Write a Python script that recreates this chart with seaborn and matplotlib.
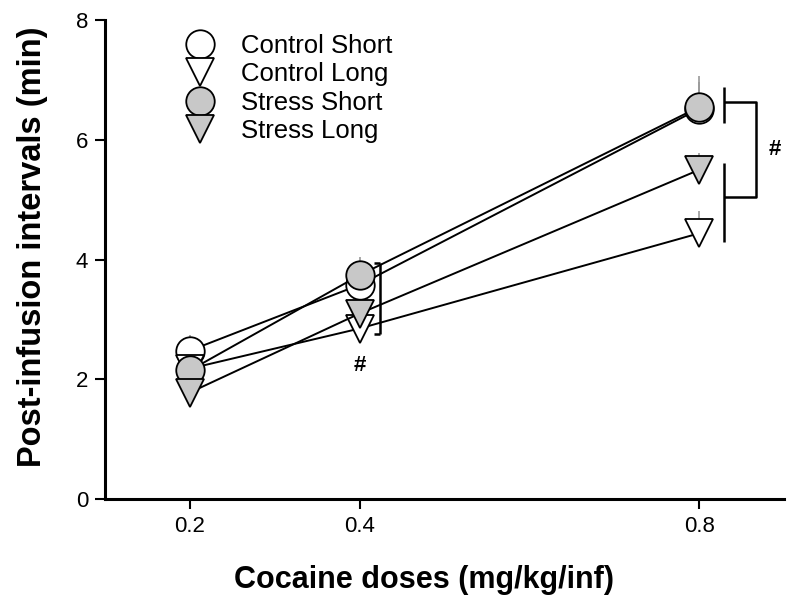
# Post-infusion intervals across cocaine doses for control / stress groups

import pandas as pd
import matplotlib
matplotlib.use("Agg")
import matplotlib.pyplot as plt
import seaborn as sns

# Data
doses = [0.2, 0.4, 0.8]
groups = ["Control Short", "Control Long", "Stress Short", "Stress Long"]
control_short = [2.48, 3.58, 6.52]
control_long = [2.18, 2.85, 4.44]
stress_short = [2.15, 3.74, 6.55]
stress_long = [1.78, 3.10, 5.50]
# upper error (SEM) values
control_short_err = [0.27, 0.25, 0.45]
control_long_err = [0.20, 0.20, 0.38]
stress_short_err = [0.22, 0.31, 0.52]
stress_long_err = [0.18, 0.20, 0.28]

group_means = [control_short, control_long, stress_short, stress_long]
group_errs = [control_short_err, control_long_err, stress_short_err, stress_long_err]

# Build a long dataframe for seaborn
rows = []
for g, means, errs in zip(groups, group_means, group_errs):
    for d, m, e in zip(doses, means, errs):
        rows.append({"dose": d, "interval": m, "err": e, "group": g})
df = pd.DataFrame(rows)

# marker styles per group
markers = {"Control Short": "o", "Control Long": "v", "Stress Short": "o", "Stress Long": "v"}
faces = {"Control Short": "white", "Control Long": "white", "Stress Short": "#c8c8c8", "Stress Long": "#c8c8c8"}

sns.set_style("ticks")
plt.rcParams["font.family"] = ["Liberation Sans", "DejaVu Sans"]
# plain black text and axes like the original figure
plt.rcParams.update({"text.color": "black", "axes.labelcolor": "black",
                     "xtick.color": "black", "ytick.color": "black",
                     "axes.edgecolor": "black"})

fig = plt.figure(figsize=(8, 6.11), dpi=100)
ax = fig.add_axes([0.131, 0.183, 0.849, 0.784])

# error bars first (upper only, grey)
for g in groups:
    sub = df[df["group"] == g]
    ax.errorbar(sub["dose"], sub["interval"], yerr=[[0] * len(sub), sub["err"]],
                fmt="none", ecolor="#9a9a9a", elinewidth=1.2, capsize=0, zorder=1)

for g in groups:
    sub = df[df["group"] == g]
    sns.lineplot(data=sub, x="dose", y="interval", ax=ax, color="black", linewidth=1.4,
                 marker=markers[g], markersize=20.5, markerfacecolor=faces[g],
                 markeredgecolor="black", markeredgewidth=1.3, label=g, zorder=3)

# significance brackets
bk = dict(color="black", lw=1.8, solid_capstyle="butt", zorder=4)
ax.plot([0.4245, 0.4245], [2.76, 3.94], **bk)
ax.plot([0.417, 0.4245], [3.94, 3.94], **bk)
ax.plot([0.417, 0.4245], [2.76, 2.76], **bk)
ax.text(0.400, 2.24, "#", ha="center", va="center", fontsize=16, fontweight="bold")

ax.plot([0.829, 0.829], [6.29, 6.88], **bk)
ax.plot([0.829, 0.829], [4.29, 5.61], **bk)
ax.plot([0.829, 0.867, 0.867, 0.829], [6.63, 6.63, 5.04, 5.04], **bk)
ax.text(0.889, 5.84, "#", ha="center", va="center", fontsize=16, fontweight="bold")

# axes
ax.set_xlim(0.1, 0.9)
ax.set_ylim(0, 8)
ax.set_xticks(doses)
ax.set_xticklabels(["0.2", "0.4", "0.8"])
ax.set_yticks([0, 2, 4, 6, 8])
ax.set_xlabel("Cocaine doses (mg/kg/inf)", fontsize=22, fontweight="bold", labelpad=20)
ax.set_ylabel("Post-infusion intervals (min)", fontsize=23.5, fontweight="bold", labelpad=20)
ax.xaxis.label.set_x(0.47)
ax.yaxis.label.set_y(0.527)
ax.tick_params(axis="both", labelsize=16, width=1.5, length=7, direction="out", pad=5)
for s in ["left", "bottom"]:
    ax.spines[s].set_linewidth(2.2)
sns.despine(ax=ax)

leg = ax.legend(loc="upper left", bbox_to_anchor=(0.14, 0.972), frameon=False, fontsize=18.5,
                handlelength=0, handletextpad=1.6, labelspacing=0.18, borderpad=0,
                borderaxespad=0, markerscale=1.0)

fig.savefig("out.png", dpi=100)
